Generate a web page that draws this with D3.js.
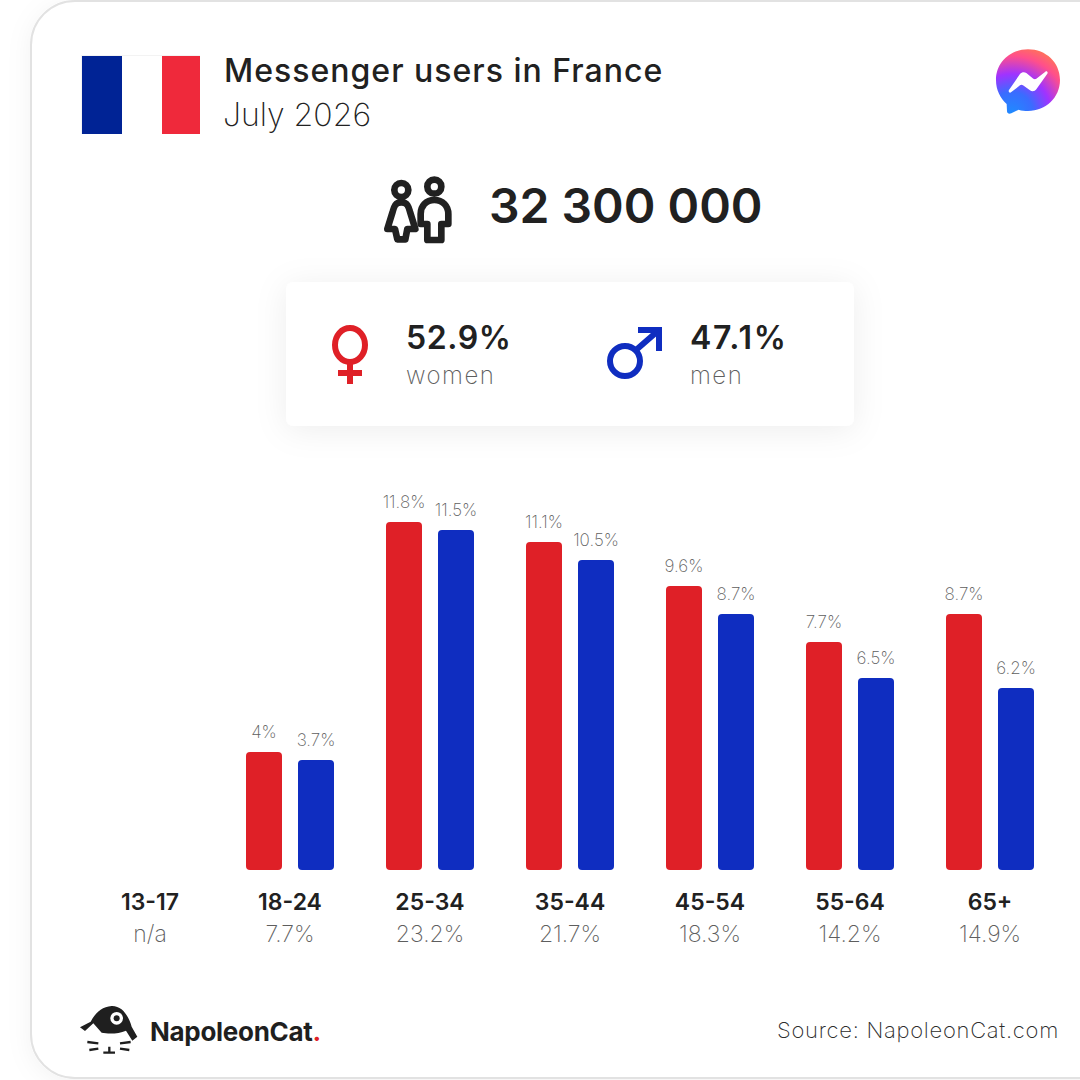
<!DOCTYPE html>
<html>
<head>
<meta charset="utf-8">
<script src="https://cdn.jsdelivr.net/npm/d3@7"></script>
<style>
  html, body { margin: 0; padding: 0; background: #fff; }
  svg { display: block; }
  text { font-family: Inter, "Open Sans", sans-serif; }
</style>
</head>
<body>
<div id="chart"></div>
<script>
const categories = ['13-17', '18-24', '25-34', '35-44', '45-54', '55-64', '65+'];
const womenValues = [null, 4, 11.8, 11.1, 9.6, 7.7, 8.7];
const menValues = [null, 3.7, 11.5, 10.5, 8.7, 6.5, 6.2];
const shareLabels = ['n/a', '7.7%', '23.2%', '21.7%', '18.3%', '14.2%', '14.9%'];
const seriesNames = ['women', 'men'];
const seriesColors = ['#df2027', '#0f2dc0'];

const dark = '#212121', grey = '#5e5e5e';

const svg = d3.select('#chart').append('svg')
  .attr('width', 1080)
  .attr('height', 1080);

const defs = svg.append('defs');
const shadow = (id, blur, op) => {
  const f = defs.append('filter').attr('id', id)
    .attr('x', '-30%').attr('y', '-30%').attr('width', '160%').attr('height', '160%');
  f.append('feDropShadow').attr('dx', 0).attr('dy', 4)
    .attr('stdDeviation', blur).attr('flood-color', '#000').attr('flood-opacity', op);
};
shadow('cardShadow', 12, 0.05);
shadow('boxShadow', 16, 0.07);

const grad = defs.append('radialGradient').attr('id', 'msgGrad')
  .attr('gradientUnits', 'userSpaceOnUse')
  .attr('cx', 125).attr('cy', 250).attr('r', 215);
[[0, '#1f8bff'], [0.3, '#3a6cff'], [0.55, '#a033ff'], [0.8, '#ff4f8b'], [1, '#ff7a4f']]
  .forEach(s => grad.append('stop').attr('offset', s[0]).attr('stop-color', s[1]));

// карточка
svg.append('rect')
  .attr('x', 31).attr('y', 1)
  .attr('width', 1200).attr('height', 1077)
  .attr('rx', 44)
  .attr('fill', '#fff')
  .attr('stroke', '#e2e2e2')
  .attr('stroke-width', 2)
  .attr('filter', 'url(#cardShadow)');

// флаг
svg.append('rect').attr('x', 81).attr('y', 55).attr('width', 119).attr('height', 79).attr('fill', '#f3f3f3');
svg.append('rect').attr('x', 82).attr('y', 56).attr('width', 40).attr('height', 78).attr('fill', '#002395');
svg.append('rect').attr('x', 122).attr('y', 56).attr('width', 40).attr('height', 78).attr('fill', '#fff');
svg.append('rect').attr('x', 162).attr('y', 56).attr('width', 38).attr('height', 78).attr('fill', '#ef293b');

const label = (x, y, str, size, weight, color, anchor, spacing) => svg.append('text')
  .attr('x', x).attr('y', y)
  .attr('font-size', size)
  .attr('font-weight', weight)
  .attr('fill', color)
  .attr('text-anchor', anchor || 'start')
  .attr('letter-spacing', spacing || 0)
  .text(str);

label(224, 82, 'Messenger users in France', 32, 500, dark, 'start', 1);
label(223, 126, 'July 2026', 32, 200, '#222', 'start', 0);

// логотип messenger
const msg = svg.append('g').attr('transform', 'translate(970,30) scale(0.3333)');
msg.append('path')
  .attr('d', 'M174 58 C228 58 270 98 270 150 C270 202 228 243 174 243 C164 243 155 242 146 239 L124 250 C117 253 111 250 111 243 L110 222 C91 205 78 180 78 150 C78 98 120 58 174 58 Z')
  .attr('fill', 'url(#msgGrad)');
msg.append('path')
  .attr('d', 'M117 180 L150 132 C155 126 163 125 169 129 L190 146 C193 148 196 148 199 146 L226 125 C230 122 235 126 232 131 L199 178 C195 184 186 186 180 181 L159 166 C156 164 153 164 150 166 L123 187 C119 190 114 185 117 180 Z')
  .attr('fill', '#fff');

// значок людей
const people = svg.append('g')
  .attr('transform', 'translate(370,160) scale(0.3333)')
  .attr('fill', 'none')
  .attr('stroke', dark)
  .attr('stroke-width', 20)
  .attr('stroke-linejoin', 'round');
people.append('circle').attr('cx', 94).attr('cy', 90).attr('r', 21);
people.append('path').attr('d', 'M94 127 C112 127 116 140 120 155 L136 207 L112 207 L106 238 L82 238 L75 207 L52 207 L68 155 C72 140 76 127 94 127 Z');
people.append('circle').attr('cx', 193).attr('cy', 80).attr('r', 21);
people.append('path').attr('d', 'M193 120 C218 120 235 138 235 162 L235 192 L214 192 L214 240 L172 240 L172 192 L152 192 L152 162 C152 138 168 120 193 120 Z');

label(489, 223, '32 300 000', 48, 600, dark);

// блок women / men
svg.append('rect')
  .attr('x', 286).attr('y', 282)
  .attr('width', 568).attr('height', 144)
  .attr('rx', 8)
  .attr('fill', '#fff')
  .attr('filter', 'url(#boxShadow)');

const female = svg.append('g').attr('fill', 'none').attr('stroke', seriesColors[0]).attr('stroke-width', 6);
female.append('ellipse').attr('cx', 350).attr('cy', 345).attr('rx', 15).attr('ry', 17);
female.append('path').attr('d', 'M350 362 V384 M338 373 H362');

const male = svg.append('g').attr('fill', 'none').attr('stroke', seriesColors[1]).attr('stroke-width', 6);
male.append('circle').attr('cx', 625).attr('cy', 361).attr('r', 15);
male.append('path').attr('d', 'M636 350 L659 330 M638 330 H659 V351');

label(406, 349, '52.9%', 32, 600, dark, 'start', 0.6);
label(406, 384, 'women', 24, 200, grey, 'start', 1.5);
label(690, 349, '47.1%', 32, 600, dark, 'start', 1.8);
label(690, 384, 'men', 24, 200, grey, 'start', 1.5);

// шкалы
const x = d3.scaleBand().domain(categories).range([80, 1060]);
const xSeries = d3.scaleBand().domain(seriesNames).range([26, 114]).paddingInner(16 / 52);
const baseY = 870;
const y = d3.scaleLinear().domain([0, 11.8]).range([baseY, 522]);
// высоты баров в исходнике идут с шагом 2px
const barTop = v => baseY - Math.round((baseY - y(v)) / 2) * 2;

const rows = categories.map((c, i) => ({c, women: womenValues[i], men: menValues[i]}));

const groups = svg.selectAll('.group')
  .data(rows)
  .enter().append('g')
  .attr('class', 'group')
  .attr('transform', d => `translate(${x(d.c)},0)`);

seriesNames.forEach((name, k) => {
  const withValue = groups.filter(d => d[name] !== null);
  withValue.append('rect')
    .attr('class', 'bar')
    .attr('x', xSeries(name))
    .attr('y', d => barTop(d[name]))
    .attr('width', xSeries.bandwidth())
    .attr('height', d => baseY - barTop(d[name]))
    .attr('rx', 4)
    .attr('fill', seriesColors[k]);
  withValue.append('text')
    .attr('x', xSeries(name) + xSeries.bandwidth() / 2)
    .attr('y', d => barTop(d[name]) - 14)
    .attr('text-anchor', 'middle')
    .attr('font-size', 17)
    .attr('font-weight', 200)
    .attr('fill', grey)
    .text(d => d[name] + '%');
});

// подписи оси
const axis = svg.append('g')
  .attr('transform', `translate(0,${baseY})`)
  .call(d3.axisBottom(x).tickSize(0).tickPadding(24));
axis.select('.domain').remove();
axis.selectAll('text')
  .attr('font-size', 23)
  .attr('font-weight', 600)
  .attr('fill', dark)
  .style('font-family', 'Inter');

svg.selectAll('.share')
  .data(categories)
  .enter().append('text')
  .attr('class', 'share')
  .attr('x', d => x(d) + x.bandwidth() / 2)
  .attr('y', 942)
  .attr('text-anchor', 'middle')
  .attr('font-size', 23)
  .attr('font-weight', 200)
  .attr('fill', grey)
  .text((d, i) => shareLabels[i]);

// логотип NapoleonCat
const cat = svg.append('g').attr('transform', 'translate(60,990) scale(0.3333)');
cat.append('path')
  .attr('d', 'M60 112 L92 95 C105 70 125 50 155 48 C185 47 205 75 215 110 L232 140 L217 152 L198 122 C175 132 145 132 125 128 L100 100 L75 123 Z')
  .attr('fill', '#1f1f1f');
cat.append('circle').attr('cx', 170).attr('cy', 85).attr('r', 19).attr('fill', '#fff');
cat.append('circle').attr('cx', 170).attr('cy', 85).attr('r', 9).attr('fill', '#1f1f1f');
cat.append('path')
  .attr('d', 'M82 156 L115 160 M88 180 L115 176 M212 156 L180 160 M208 180 L180 176 M148 170 V188 M130 188 H165')
  .attr('fill', 'none')
  .attr('stroke', '#1f1f1f')
  .attr('stroke-width', 7);

const brand = label(150, 1041, '', 26, 700, '#1f1f1f', 'start', -0.3);
brand.append('tspan').text('NapoleonCat');
brand.append('tspan').attr('fill', '#df2027').text('.');

label(1059, 1038, 'Source: NapoleonCat.com', 22, 200, '#2c2c2c', 'end', 0.72);
</script>
</body>
</html>
